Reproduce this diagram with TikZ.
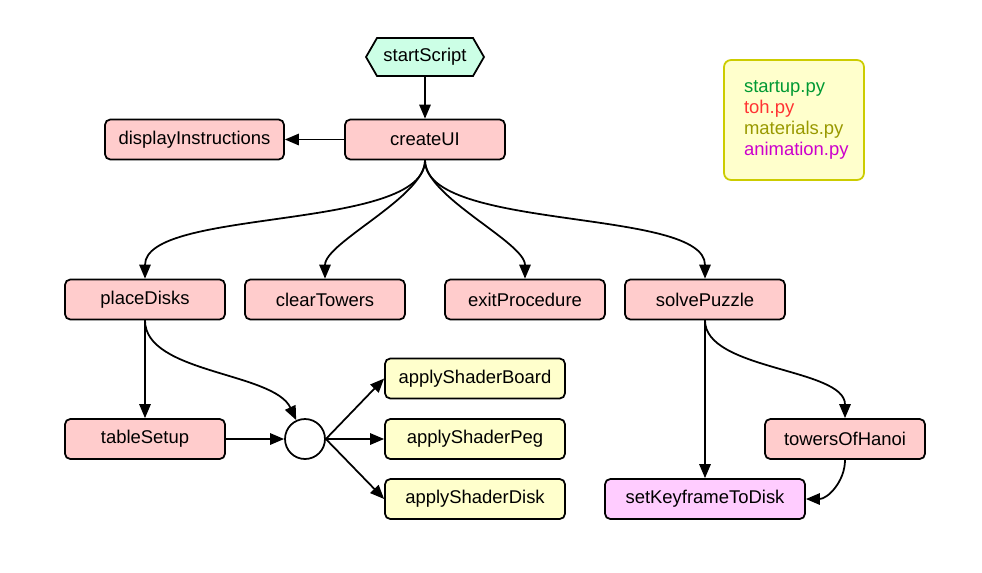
\documentclass[tikz,border=0pt]{standalone}
\usepackage{fontspec}
\setmainfont{Liberation Sans}
\usetikzlibrary{arrows.meta,shapes.symbols}

\definecolor{funcpink}{HTML}{FFCCCC}
\definecolor{startmint}{HTML}{CCFFE6}
\definecolor{matyellow}{HTML}{FFFFCC}
\definecolor{animlilac}{HTML}{FFCCFF}
\definecolor{legendrim}{HTML}{CCCC00}
\definecolor{startgreen}{HTML}{009933}
\definecolor{tohred}{HTML}{FF3333}
\definecolor{matolive}{HTML}{999900}
\definecolor{animmagenta}{HTML}{CC00CC}

\begin{document}
\begin{tikzpicture}
  [x=0.02cm,y=-0.02cm,line width=1pt,>={Triangle[length=8pt,width=6.5pt]},
   every node/.style={font=\fontsize{10.5}{12}\selectfont},
   func/.style={draw,rounded corners=3pt,fill=funcpink,minimum width=3.2cm,minimum height=0.8cm},
   shader/.style={func,fill=matyellow,minimum width=3.6cm},
   anim/.style={func,fill=animlilac,minimum width=4cm},
   hexa/.style={draw,shape=signal,signal to=east and west,signal pointer angle=120,fill=startmint,minimum width=2.36cm,minimum height=0.76cm,inner sep=1pt},
   legendbox/.style={draw=legendrim,rounded corners=4pt,fill=matyellow,minimum width=2.8cm,minimum height=2.4cm,
     align=left,text width=2.0cm,inner xsep=0.4cm}]
  \useasboundingbox (0,0) rectangle (982,572);

  \node[hexa] (start) at (425,57) {startScript};
  \node[func] (ui) at (425,139.5) {createUI};
  \node[func,minimum width=3.58cm] (instr) at (194.5,139.5) {displayInstructions};
  \node[func] (place) at (145,299.5) {placeDisks};
  \node[func] (clear) at (325,299.5) {clearTowers};
  \node[func] (exitp) at (525,299.5) {exitProcedure};
  \node[func] (solve) at (705,299.5) {solvePuzzle};
  \node[func] (table) at (145,439) {tableSetup};
  \node[draw,circle,fill=white,minimum size=0.8cm] (hub) at (305,439) {};
  \node[shader] (board) at (475,378.5) {applyShaderBoard};
  \node[shader] (peg) at (475,439) {applyShaderPeg};
  \node[shader] (disk) at (475,499) {applyShaderDisk};
  \node[func] (hanoi) at (845,439) {towersOfHanoi};
  \node[anim] (key) at (705,499) {setKeyframeToDisk};

  \node[legendbox] (legend) at (794,120)
    {\textcolor{startgreen}{startup.py}\\\textcolor{tohred}{toh.py}\\
     \textcolor{matolive}{materials.py}\\\textcolor{animmagenta}{animation.py}};

\foreach \from/\to in
{start/ui, ui/instr, place/table, table/hub, solve/key}
    \draw[->] (\from) -- (\to);
\foreach \to in {board, peg, disk}
    \draw[->] (hub.east) -- (\to.west);
\foreach \to in {place, clear, exitp, solve}
    \draw[->] (ui.south) to[out=-90,in=90,looseness=0.6] (\to.north);
  \draw[->] (place.south) to[out=-90,in=115,looseness=0.75] (hub);
  \draw[->] (solve.south) to[out=-90,in=90,looseness=0.75] (hanoi.north);
  \draw[->] (hanoi.south) to[out=-90,in=0] (key.east);
\end{tikzpicture}
\end{document}
